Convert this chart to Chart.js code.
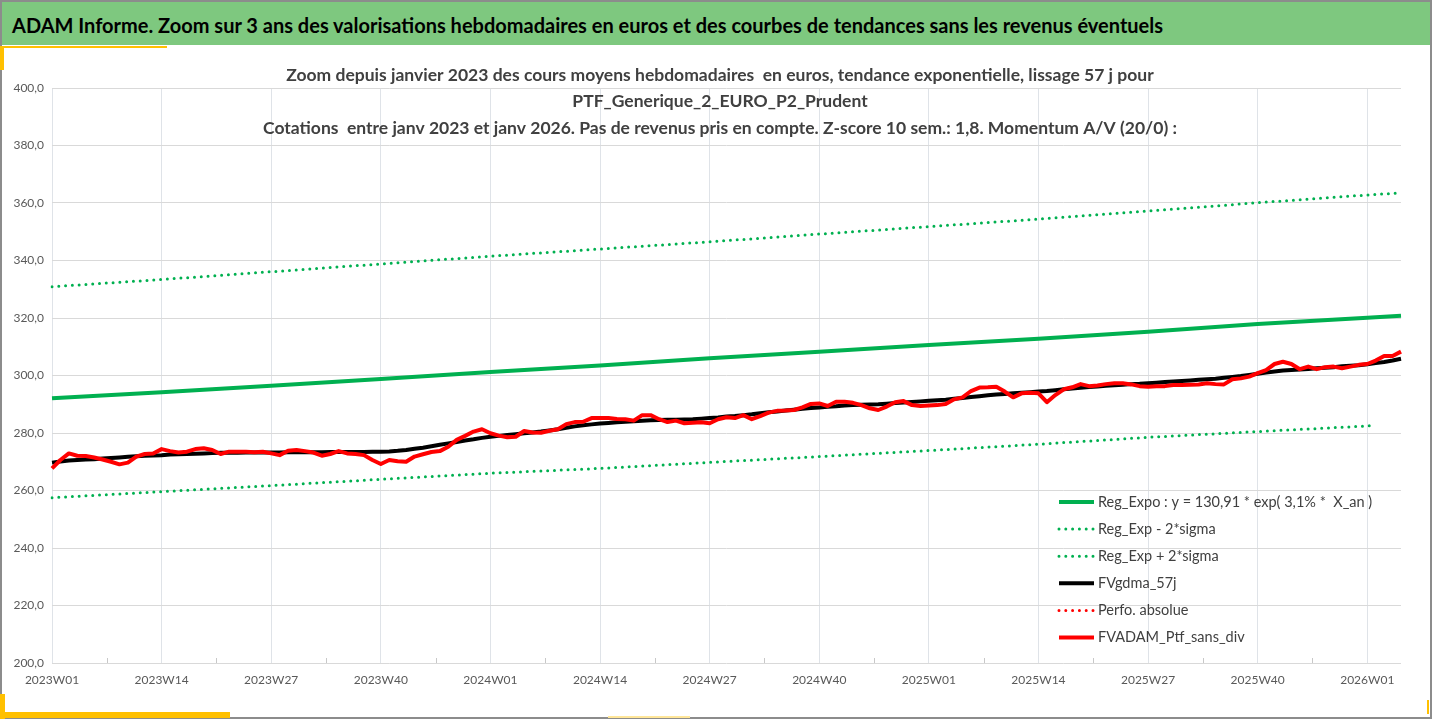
<!doctype html>
<html lang="fr">
<head>
<meta charset="utf-8" />
<title>ADAM Informe</title>
<script src="https://cdn.jsdelivr.net/npm/chart.js@4.4.1/dist/chart.umd.min.js"></script>
<style>
    html, body { margin: 0; padding: 0; background: #fff; }
    #page { position: relative; width: 1432px; height: 719px; overflow: hidden; background: #fff; }
    #cadre { position: absolute; left: 0; top: 0; width: 1428px; height: 715px; border: 2px solid #8c8c8c; pointer-events: none; z-index: 5; }
    #bandeau { position: absolute; left: 0; top: 0; width: 1432px; height: 45px; background: #7ec87f;
               font-family: Lato, sans-serif; font-weight: bold; font-size: 20px; color: #000;
               line-height: 50px; padding-left: 12px; box-sizing: border-box; white-space: pre; }
    .jaune { position: absolute; background: #ffc000; z-index: 6; }
    #zone { position: absolute; left: 0; top: 48px; width: 1432px; height: 671px; }
</style>
</head>
<body>
<div id="page">
    <div id="bandeau">ADAM Informe. Zoom sur 3 ans des valorisations hebdomadaires en euros et des courbes de tendances sans les revenus éventuels</div>
    <div class="jaune" style="left:0;top:46px;width:167px;height:2px"></div>
    <div class="jaune" style="left:0;top:46px;width:4px;height:24px"></div>
    <div class="jaune" style="left:0;top:712px;width:230px;height:6px"></div>
    <div class="jaune" style="left:0;top:694px;width:5px;height:25px"></div>
    <div class="jaune" style="left:608px;top:716px;width:82px;height:2px;background:#ffe699"></div>
    <div class="jaune" style="left:1427px;top:700px;width:2px;height:14px"></div>
    <div id="zone"><canvas id="graphe" width="1432" height="671"></canvas></div>
    <div id="cadre"></div>
</div>

<script>
// semaines ISO : 2023W01 -> 2026W05
const semaines = [];
[2023, 2024, 2025].forEach(function (an) {
    for (let w = 1; w <= 52; w++) semaines.push(an + 'W' + String(w).padStart(2, '0'));
});
for (let w = 1; w <= 5; w++) semaines.push('2026W0' + w);

// FVADAM_Ptf_sans_div (cours moyens hebdo)
const fvadam = [
    267.7, 270.6, 272.9, 272.1, 272.0, 271.5, 270.8, 270.0, 269.1, 269.7, 271.8, 272.7, 272.9, 274.4,
    273.7, 273.2, 273.5, 274.4, 274.7, 274.1, 272.7, 273.5, 273.5, 273.5, 273.3, 273.5, 272.9, 272.3,
    273.8, 274.1, 273.7, 273.2, 272.1, 272.7, 273.7, 272.9, 272.7, 272.3, 270.6, 269.2, 270.6, 270.2,
    270.0, 271.8, 272.6, 273.4, 273.7, 275.2, 277.6, 279.0, 280.5, 281.3, 279.9, 279.1, 278.5, 278.7,
    280.7, 280.2, 280.1, 280.8, 281.3, 283.1, 283.8, 283.9, 285.2, 285.2, 285.2, 284.9, 284.8, 284.3,
    286.2, 286.2, 284.8, 283.8, 284.3, 283.4, 283.6, 283.7, 283.4, 284.8, 285.5, 285.2, 286.2, 284.8,
    285.9, 287.1, 287.7, 287.8, 288.0, 288.9, 290.1, 290.3, 289.4, 290.9, 290.9, 290.5, 289.7, 288.6,
    288.0, 289.2, 290.7, 291.1, 289.7, 289.4, 289.6, 289.7, 290.1, 291.7, 292.4, 294.6, 295.8, 295.9,
    296.1, 294.4, 292.4, 293.8, 294.0, 293.8, 290.7, 293.2, 295.2, 295.9, 297.0, 296.3, 296.5,
    297.0, 297.3, 297.3, 296.9, 296.3, 296.1, 296.3, 296.3, 296.7, 296.7, 296.8, 296.9, 297.3, 297.0,
    296.9, 298.7, 299.0, 299.6, 300.8, 301.9, 304.0, 304.8, 304.0, 302.2, 303.1, 302.2, 302.9, 303.1,
    302.5, 303.1, 303.7, 304.0, 305.2, 306.8, 306.8, 308.3
];

// FVgdma_57j (moyenne mobile lissee)
const fvgdma = [
    269.7, 270.1, 270.4, 270.6, 270.8, 270.9, 271.1, 271.3, 271.5, 271.7, 271.9, 272.1, 272.2, 272.3,
    272.5, 272.6, 272.7, 272.8, 272.9, 273.0, 273.1, 273.1, 273.1, 273.2, 273.2, 273.2, 273.2, 273.2,
    273.3, 273.3, 273.3, 273.3, 273.3, 273.4, 273.4, 273.4, 273.4, 273.4, 273.5, 273.5, 273.6, 273.8,
    274.1, 274.5, 274.9, 275.4, 275.9, 276.4, 276.9, 277.4, 277.8, 278.3, 278.7,
    279.0, 279.3, 279.6, 279.9, 280.2, 280.5, 280.9, 281.3, 281.8, 282.3, 282.7, 283.0, 283.3, 283.5,
    283.7, 283.9, 284.1, 284.3, 284.4, 284.5, 284.6, 284.6, 284.7, 284.8, 285.0, 285.2, 285.4, 285.7,
    285.9, 286.2, 286.5,
    286.9, 287.2, 287.5, 287.8, 288.1, 288.4, 288.7, 288.9, 289.1, 289.3, 289.6, 289.7, 289.8, 289.9,
    290.0, 290.2, 290.4, 290.6, 290.8, 291.0, 291.2, 291.4, 291.6, 291.9, 292.2, 292.5, 292.8, 293.1,
    293.4, 293.6, 293.8, 294.0, 294.2, 294.4, 294.6, 294.9, 295.2, 295.5, 295.7, 296.0, 296.2,
    296.4, 296.6, 296.8, 297.0, 297.1, 297.3, 297.5, 297.7, 297.9, 298.1, 298.3, 298.5, 298.7, 298.9,
    299.2, 299.5, 299.8, 300.2, 300.6, 301.0, 301.4, 301.7, 301.9, 302.1, 302.3, 302.5, 302.7, 302.9,
    303.2, 303.4, 303.6, 303.9, 304.3, 304.7, 305.2, 305.8
];

// courbes de tendance, lues aux semaines de reference
const semainesTendance = ['2023W01', '2023W14', '2023W27', '2023W40', '2024W01', '2024W14', '2024W27',
                          '2024W40', '2025W01', '2025W14', '2025W27', '2025W40', '2026W01', '2026W05'];
const regExpo  = [292.1, 294.2, 296.4, 298.8, 301.2, 303.5, 306.0, 308.3, 310.6, 312.8, 315.2, 317.9, 320.1, 320.8];
const regPlus  = [330.9, 333.4, 336.1, 338.8, 341.5, 344.0, 346.5, 349.2, 351.8, 354.4, 357.2, 360.1, 362.8, 363.5];
const semainesMoins = ['2023W01', '2023W14', '2023W27', '2023W40', '2024W01', '2024W14', '2024W27',
                       '2024W40', '2025W01', '2025W14', '2025W27', '2025W40', '2026W02'];
const regMoins = [257.5, 259.6, 261.7, 263.9, 266.0, 267.7, 269.8, 271.8, 273.9, 276.1, 278.5, 280.5, 282.6];
const perfoAbsolue = [];

const titre = [
    'Zoom depuis janvier 2023 des cours moyens hebdomadaires  en euros, tendance exponentielle, lissage 57 j pour',
    'PTF_Generique_2_EURO_P2_Prudent',
    'Cotations  entre janv 2023 et janv 2026. Pas de revenus pris en compte. Z-score 10 sem.: 1,8. Momentum A/V (20/0) :'
];

function points(cles, valeurs) {
    return valeurs.map(function (v, i) { return {x: cles[i], y: v}; });
}

const VERT = '#00b050';
const POLICE = 'Lato, sans-serif';

// titre dessine par-dessus la zone de trace (comme dans Excel)
const titreInterne = {
    id: 'titreInterne',
    afterDraw(chart) {
        const ctx = chart.ctx;
        ctx.save();
        ctx.font = 'bold 17.5px ' + POLICE;
        ctx.fillStyle = '#404040';
        ctx.textAlign = 'center';
        ctx.textBaseline = 'middle';
        titre.forEach(function (ligne, i) {
            ctx.fillText(ligne, 720, 27 + i * 26.5);
        });
        ctx.restore();
    }
};

// legende a l'interieur de la zone de trace, en bas a droite
const legendeInterne = {
    id: 'legendeInterne',
    afterDraw(chart) {
        const ctx = chart.ctx, zone = chart.chartArea;
        const x0 = zone.right - 342, y0 = zone.bottom - 161;
        ctx.save();
        ctx.font = '14.5px ' + POLICE;
        ctx.textBaseline = 'middle';
        chart.data.datasets.forEach(function (ds, i) {
            const y = y0 + i * 27.1;
            ctx.beginPath();
            ctx.strokeStyle = ds.borderColor;
            ctx.lineWidth = ds.borderWidth;
            ctx.setLineDash(ds.borderDash || []);
            ctx.lineCap = ds.borderDash ? 'round' : 'butt';
            ctx.moveTo(x0, y);
            ctx.lineTo(x0 + 35, y);
            ctx.stroke();
            ctx.setLineDash([]);
            ctx.fillStyle = '#404040';
            ctx.fillText(ds.label, x0 + 39, y);
        });
        ctx.restore();
    }
};

// petites graduations internes entre les etiquettes de l'axe X
const graduations = {
    id: 'graduations',
    beforeDatasetsDraw(chart) {
        const ctx = chart.ctx, sx = chart.scales.x, bas = chart.chartArea.bottom;
        ctx.save();
        ctx.strokeStyle = '#c8c8c8';
        ctx.lineWidth = 1;
        for (let k = 0; k * 13 + 6.5 < semaines.length - 1; k++) {
            const px = Math.round(sx.getPixelForValue(k * 13 + 6.5)) + 0.5;
            ctx.beginPath();
            ctx.moveTo(px, bas - 5);
            ctx.lineTo(px, bas);
            ctx.stroke();
        }
        ctx.restore();
    }
};

new Chart(document.getElementById('graphe'), {
    type: 'line',
    data: {
        labels: semaines,
        datasets: [{
            label: 'Reg_Expo : y = 130,91 * exp( 3,1% *  X_an )',
            data: points(semainesTendance, regExpo),
            borderColor: VERT, borderWidth: 4, order: 5
        }, {
            label: 'Reg_Exp - 2*sigma',
            data: points(semainesMoins, regMoins),
            borderColor: VERT, borderWidth: 3, borderDash: [0, 6.8], borderCapStyle: 'round', order: 4
        }, {
            label: 'Reg_Exp + 2*sigma',
            data: points(semainesTendance, regPlus),
            borderColor: VERT, borderWidth: 3, borderDash: [0, 6.8], borderCapStyle: 'round', order: 3
        }, {
            label: 'FVgdma_57j',
            data: fvgdma,
            borderColor: '#000000', borderWidth: 4, order: 2
        }, {
            label: 'Perfo. absolue',
            data: perfoAbsolue,
            borderColor: '#ff0000', borderWidth: 3, borderDash: [0, 6.8], borderCapStyle: 'round', order: 1
        }, {
            label: 'FVADAM_Ptf_sans_div',
            data: fvadam,
            borderColor: '#ff0000', borderWidth: 4, order: 0
        }]
    },
    options: {
        responsive: false,
        animation: false,
        events: [],
        elements: {
            point: { radius: 0 },
            line: { tension: 0, borderJoinStyle: 'round', fill: false }
        },
        layout: { padding: { top: 40, right: 31, bottom: 26, left: 0 } },
        scales: {
            x: {
                type: 'category',
                offset: false,
                border: { display: false },
                grid: {
                    drawTicks: false,
                    color: function (c) { return c.index % 13 === 0 ? '#dfe3e8' : 'rgba(0,0,0,0)'; }
                },
                ticks: {
                    autoSkip: false, maxRotation: 0, minRotation: 0, padding: 10,
                    color: '#595959', font: { family: POLICE, size: 12 },
                    callback: function (v, i) { return i % 13 === 0 ? semaines[i] : ''; }
                },
                afterFit: function (s) { s.height = 30; }
            },
            y: {
                min: 200, max: 400,
                border: { display: false },
                grid: { drawTicks: false, color: '#d9d9d9' },
                ticks: {
                    stepSize: 20, padding: 8,
                    color: '#595959', font: { family: POLICE, size: 12 },
                    callback: function (v) { return v.toFixed(1).replace('.', ','); }
                },
                afterFit: function (s) { s.width = 52; }
            }
        },
        plugins: {
            legend: { display: false },
            title: { display: false },
            tooltip: { enabled: false }
        }
    },
    plugins: [graduations, titreInterne, legendeInterne]
});
</script>
</body>
</html>
